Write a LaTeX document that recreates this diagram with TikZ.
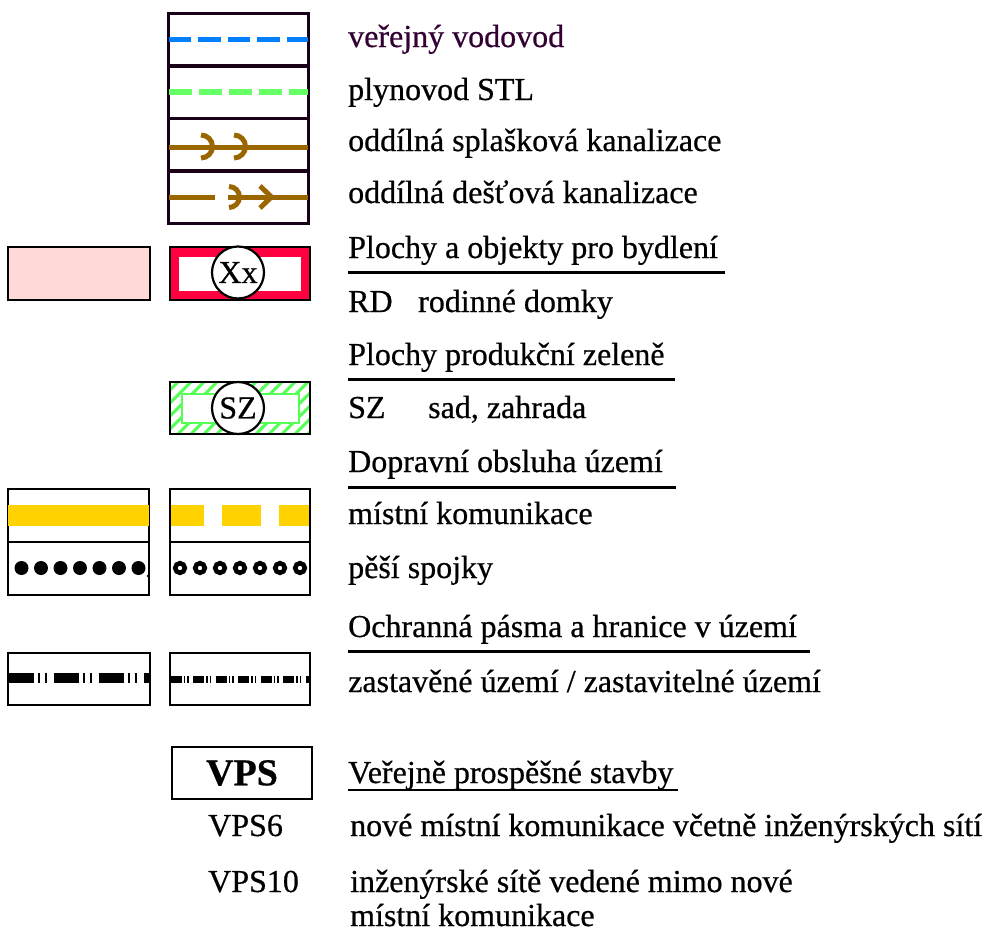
\documentclass[tikz,border=0pt]{standalone}
\usepackage{fontspec}
\setmainfont{Liberation Serif}[RawFeature={embolden=0.6}]
\definecolor{framec}{RGB}{25,0,25}
\definecolor{waterc}{RGB}{0,128,255}
\definecolor{gasc}{RGB}{102,255,102}
\definecolor{brownc}{RGB}{153,102,0}
\definecolor{pinkc}{RGB}{255,218,216}
\definecolor{redc}{RGB}{255,0,64}
\definecolor{hatchc}{RGB}{85,255,85}
\definecolor{yellowc}{RGB}{255,210,0}
\definecolor{purpc}{RGB}{51,0,51}
\begin{document}
\begin{tikzpicture}[x=1pt,y=-1pt,
  frame/.style={draw=framec, line width=3pt, minimum width=140pt, inner sep=0pt},
  bframe/.style={draw=black, line width=2.6pt, inner sep=0pt},
  lbl/.style={anchor=base west, inner sep=0pt, font=\fontsize{32}{38}\selectfont},
  uline/.style={line width=3pt},
  pipe/.style={line width=5.5pt, shorten <=2pt, shorten >=2pt},
  sewer/.style={draw=brownc, line width=5pt},
  marker/.style={draw=black, line width=2.2pt, circle, fill=white, minimum size=52pt, inner sep=0pt, font=\fontsize{32}{38}\selectfont}
]
\useasboundingbox (0,0) rectangle (997,932);

% ---- network boxes
\node[frame, minimum height=53pt] (b1) at (238,39.5) {};
\node[frame, minimum height=52.5pt] (b2) at (238,92.2) {};
\node[frame, minimum height=52.5pt] (b3) at (238,144.7) {};
\node[frame, minimum height=52pt] (b4) at (238,197) {};

\draw[pipe, draw=waterc, dash pattern=on 22.5pt off 7pt] (b1.west) -- (b1.east);
\draw[pipe, draw=gasc, dash pattern=on 23pt off 7pt] (b2.west) -- (b2.east);
\draw[sewer, shorten <=2pt, shorten >=2pt] (b3.west |- 0,147) -- (b3.east |- 0,147);
\draw[sewer] (201,135) arc[start angle=-90, end angle=90, radius=11.5];
\draw[sewer] (234,135) arc[start angle=-90, end angle=90, radius=11.5];
\coordinate (s4a) at (215,197);
\coordinate (s4b) at (228,197);
\draw[sewer, shorten <=2pt] (b4.west |- 0,197) -- (s4a);
\draw[sewer, shorten >=2pt] (s4b) -- (b4.east |- 0,197);
\draw[sewer] (229,186.5) arc[start angle=-90, end angle=90, radius=10.5];
\draw[sewer] (260,186) -- (271.5,197) -- (260,208);

% ---- housing
\node[bframe, fill=pinkc, minimum width=142pt, minimum height=53pt] (pink) at (79,273.5) {};
\node[bframe, fill=redc, minimum width=140pt, minimum height=53pt] (red) at (240,273.5) {};
\fill[white] (179,257) rectangle (301,291);
\node[marker] (xx) at (238,272.5) {Xx};

% ---- green production
\begin{scope}
\clip (170,382) rectangle (310,434);
\foreach \i in {0,...,16}
  \draw[hatchc, line width=3pt] (120+\i*13,440) -- (180+\i*13,380);
\end{scope}
\draw[hatchc, line width=2pt, fill=white] (182,394) rectangle (299,423);
\node[bframe, minimum width=140pt, minimum height=52pt] (sz) at (240,408) {};
\node[marker] (szc) at (238,408) {SZ};

% ---- roads
\node[bframe, minimum width=141pt, minimum height=53pt] (r1) at (78.5,515.5) {};
\node[bframe, minimum width=141pt, minimum height=53pt] (r2) at (78.5,568.5) {};
\node[bframe, minimum width=140pt, minimum height=53pt] (r3) at (240,515.5) {};
\node[bframe, minimum width=140pt, minimum height=53pt] (r4) at (240,568.5) {};
\draw[yellowc, line width=21pt, shorten <=1.5pt, shorten >=1.5pt] (r1.west) -- (r1.east);
\draw[yellowc, line width=21pt, shorten <=2pt, shorten >=2pt, dash pattern=on 33pt off 18pt on 39pt off 18pt] (r3.west) -- (r3.east);
\foreach \k in {0,...,6}
  \fill[black] (21.5+\k*19.5,568) circle[radius=7];
\fill[black] (148,576) circle[radius=1.3];
\foreach \k in {0,...,6}
  \draw[black, line width=4.6pt] (180+\k*20,568) circle[radius=4.8];

% ---- boundaries
\node[bframe, minimum width=142pt, minimum height=52pt] (z1) at (79,679) {};
\node[bframe, minimum width=140pt, minimum height=52pt] (z2) at (240,679) {};
\draw[black, line width=10pt, shorten <=2pt, shorten >=2pt, dash pattern=on 25pt off 4pt on 2pt off 5pt on 2pt off 7pt] (z1.west |- 0,678) -- (z1.east |- 0,678);
\draw[black, line width=7pt, shorten <=2pt, shorten >=2pt, dash pattern=on 11pt off 2pt on 1.5pt off 2pt on 1.5pt off 4.5pt] (z2.west |- 0,679) -- (z2.east |- 0,679);

% ---- VPS
\node[bframe, minimum width=140pt, minimum height=52pt, font=\fontsize{38}{42}\selectfont\bfseries] (vps) at (242,773) {VPS};

% ---- texts
\node[lbl, text=purpc] (t1) at (348,47) {veřejný vodovod};
\node[lbl] (t2) at (348,100) {plynovod STL};
\node[lbl] (t3) at (348,151) {oddílná splašková kanalizace};
\node[lbl] (t4) at (348,203) {oddílná dešťová kanalizace};
\node[lbl] (h1) at (348,258) {Plochy a objekty pro bydlení};
\draw[uline] (348,272) -- (725,272);
\node[lbl] (t5a) at (348,312) {RD};
\node[lbl] (t5b) at (418,312) {rodinné domky};
\node[lbl] (h2) at (348,365) {Plochy produkční zeleně};
\draw[uline] (348,379) -- (675,379);
\node[lbl] (t6a) at (348,418) {SZ};
\node[lbl] (t6b) at (428,418) {sad, zahrada};
\node[lbl] (h3) at (348,472) {Dopravní obsluha území};
\draw[uline] (348,487) -- (676,487);
\node[lbl] (t7) at (348,524) {místní komunikace};
\node[lbl] (t8) at (348,578) {pěší spojky};
\node[lbl] (h4) at (348,637) {Ochranná pásma a hranice v území};
\draw[uline] (348,651) -- (810,651);
\node[lbl] (t9) at (348,692) {zastavěné území / zastavitelné území};
\node[lbl] (h5) at (348,783) {Veřejně prospěšné stavby};
\draw[line width=2pt] (348,790) -- (678,790);
\node[lbl] (t10a) at (208,836) {VPS6};
\node[lbl] (t10b) at (350,836) {nové místní komunikace včetně inženýrských sítí};
\node[lbl] (t11a) at (208,892) {VPS10};
\node[lbl] (t11b) at (350,892) {inženýrské sítě vedené mimo nové};
\node[lbl] (t11c) at (350,926) {místní komunikace};
\end{tikzpicture}
\end{document}
